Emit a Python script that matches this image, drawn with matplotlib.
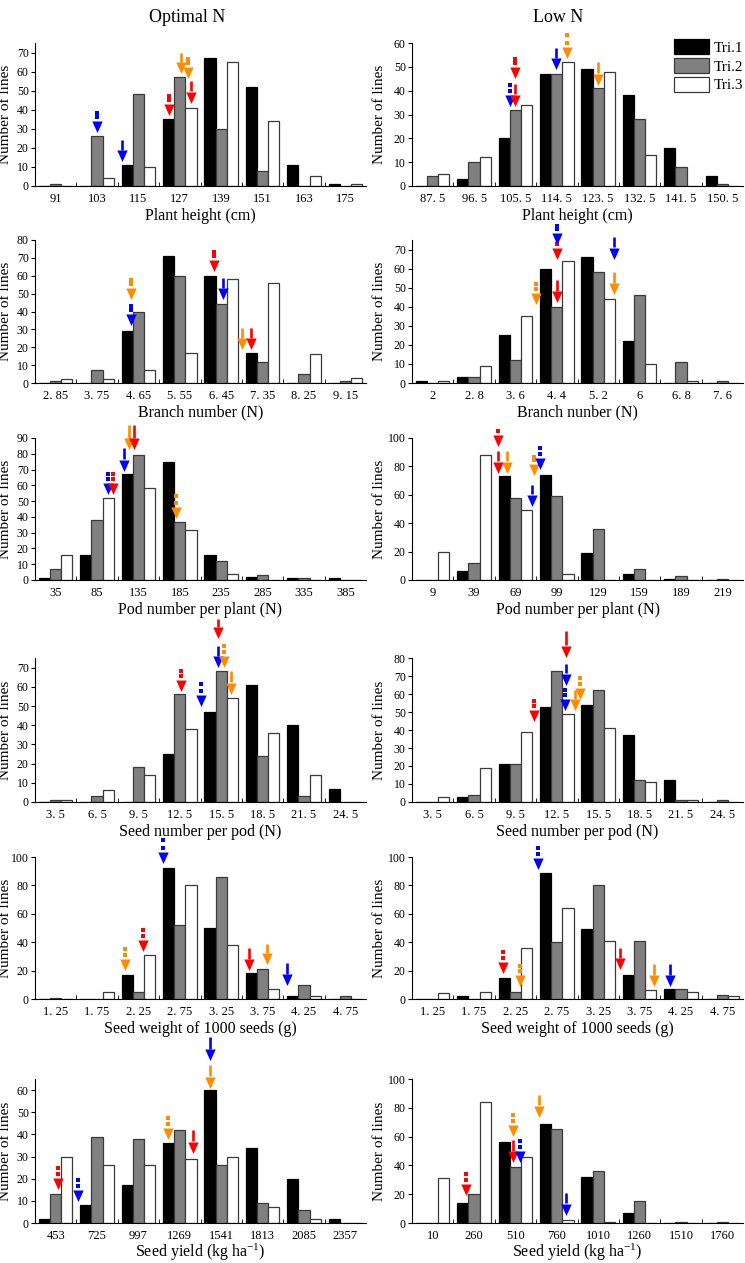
import numpy as np
import matplotlib
matplotlib.use('Agg')
import matplotlib.pyplot as plt
from matplotlib.path import Path

plt.rcParams['font.family'] = 'Liberation Serif'
plt.rcParams['mathtext.fontset'] = 'custom'
plt.rcParams['mathtext.rm'] = 'Liberation Serif'
plt.rcParams['mathtext.it'] = 'Liberation Serif:italic'

# ---- data: three trials per panel (Tri.1, Tri.2, Tri.3) ----
ph_opt_cats = ['91', '103', '115', '127', '139', '151', '163', '175']
ph_opt = [[0, 0, 11, 35, 67, 52, 11, 1],
          [1, 26, 48, 57, 30, 8, 0, 0],
          [0, 4, 10, 41, 65, 34, 5, 1]]
ph_low_cats = ['87. 5', '96. 5', '105. 5', '114. 5', '123. 5', '132. 5', '141. 5', '150. 5']
ph_low = [[0, 3, 20, 47, 49, 38, 16, 4],
          [4, 10, 32, 47, 41, 28, 8, 1],
          [5, 12, 34, 52, 48, 13, 0, 0]]

bn_opt_cats = ['2. 85', '3. 75', '4. 65', '5. 55', '6. 45', '7. 35', '8. 25', '9. 15']
bn_opt = [[0, 0, 29, 71, 60, 17, 0, 0],
          [1, 7, 40, 60, 44, 12, 5, 1],
          [2, 2, 7, 17, 58, 56, 16, 3]]
bn_low_cats = ['2', '2. 8', '3. 6', '4. 4', '5. 2', '6', '6. 8', '7. 6']
bn_low = [[1, 3, 25, 60, 66, 22, 0, 0],
          [0, 3, 12, 40, 58, 46, 11, 1],
          [1, 9, 35, 64, 44, 10, 1, 0]]

pn_opt_cats = ['35', '85', '135', '185', '235', '285', '335', '385']
pn_opt = [[1, 16, 67, 75, 16, 2, 1, 1],
          [7, 38, 79, 37, 12, 3, 1, 0],
          [16, 52, 58, 32, 4, 0, 0, 0]]
pn_low_cats = ['9', '39', '69', '99', '129', '159', '189', '219']
pn_low = [[0, 6, 73, 74, 19, 4, 1, 0],
          [0, 12, 58, 59, 36, 8, 3, 1],
          [20, 88, 49, 4, 0, 0, 0, 0]]

sn_cats = ['3. 5', '6. 5', '9. 5', '12. 5', '15. 5', '18. 5', '21. 5', '24. 5']
sn_opt = [[0, 0, 0, 25, 47, 61, 40, 7],
          [1, 3, 18, 56, 68, 24, 3, 0],
          [1, 6, 14, 38, 54, 36, 14, 0]]
sn_low = [[0, 3, 21, 53, 54, 37, 12, 0],
          [0, 4, 21, 73, 62, 12, 1, 1],
          [3, 19, 39, 49, 41, 11, 1, 0]]

sw_cats = ['1. 25', '1. 75', '2. 25', '2. 75', '3. 25', '3. 75', '4. 25', '4. 75']
sw_opt = [[0, 0, 17, 92, 50, 18, 2, 0],
          [1, 0, 5, 52, 86, 21, 10, 2],
          [0, 5, 31, 80, 38, 7, 2, 0]]
sw_low = [[0, 2, 15, 89, 49, 17, 7, 0],
          [0, 0, 5, 40, 80, 41, 7, 3],
          [4, 5, 36, 64, 41, 6, 5, 2]]

sy_opt_cats = ['453', '725', '997', '1269', '1541', '1813', '2085', '2357']
sy_opt = [[2, 8, 17, 36, 60, 34, 20, 2],
          [13, 39, 38, 42, 26, 9, 6, 0],
          [30, 26, 26, 29, 30, 7, 2, 0]]
sy_low_cats = ['10', '260', '510', '760', '1010', '1260', '1510', '1760']
sy_low = [[0, 14, 56, 69, 32, 7, 0, 0],
          [0, 20, 39, 65, 36, 15, 1, 1],
          [31, 84, 46, 2, 1, 0, 0, 0]]

# arrows: (category position, tip value, tail value, colour key, line style)
ph_opt_arrows = [(1.0, 28, 39, 'b', ':'), (1.61, 12.8, 24, 'b', '-'), (2.75, 37, 48, 'r', ':'),
                 (3.02, 59, 70, 'o', '-'), (3.2, 56.5, 67.5, 'o', ':'), (3.27, 43.5, 55, 'r', '-')]
ph_low_arrows = [(1.86, 33.4, 43, 'b', ':'), (2.0, 33.4, 43, 'r', '-'), (2.0, 44.9, 54, 'r', ':'),
                 (2.97, 48.8, 58, 'b', '-'), (3.25, 53.4, 64, 'o', ':'), (4.0, 42.2, 52, 'o', '-')]
bn_opt_arrows = [(1.82, 46.9, 58.6, 'o', ':'), (1.82, 32, 43.7, 'b', ':'), (3.82, 62.3, 74.4, 'r', ':'),
                 (4.05, 46.5, 58.6, 'b', '-'), (4.5, 18.6, 30.7, 'o', '-'), (4.73, 18.6, 30.7, 'r', '-')]
bn_low_arrows = [(3.0, 72.8, 83, 'b', ':'), (3.0, 64.7, 77.8, 'r', ':'), (3.0, 42, 54, 'r', '-'),
                 (2.49, 41, 52.6, 'o', ':'), (4.39, 64.8, 76.5, 'b', '-'), (4.39, 46.4, 58.3, 'o', '-')]
pn_opt_arrows = [(1.26, 54, 68, 'b', ':'), (1.38, 54, 68, 'r', ':'), (1.64, 68.8, 83.6, 'b', '-'),
                 (1.78, 82.5, 98, 'o', '-'), (1.9, 82.5, 98, 'r', '-'), (2.9, 38.7, 54, 'o', ':')]
pn_low_arrows = [(1.58, 94, 106, 'r', ':'), (1.58, 75.3, 90.5, 'r', '-'), (1.79, 75.3, 90.5, 'o', '-'),
                 (2.46, 73.5, 88, 'o', ':'), (2.59, 78, 94, 'b', ':'), (2.39, 52, 67, 'b', '-')]
sn_opt_arrows = [(3.02, 57.8, 69, 'r', ':'), (3.51, 49.9, 62, 'b', ':'), (3.93, 85, 95.5, 'r', '-'),
                 (3.93, 70, 81.4, 'b', '-'), (4.07, 70, 82, 'o', ':'), (4.23, 56, 68, 'o', '-')]
sn_low_arrows = [(2.44, 44.7, 56.7, 'r', ':'), (3.23, 80.4, 95, 'r', '-'), (3.23, 65, 76.7, 'b', '-'),
                 (3.2, 50.8, 63, 'b', ':'), (3.44, 50.8, 62.3, 'o', '-'), (3.56, 56.7, 69.8, 'o', ':')]
sw_opt_arrows = [(1.68, 20, 36.4, 'o', ':'), (2.12, 33.4, 50, 'r', ':'), (2.6, 95.3, 113, 'b', ':'),
                 (4.68, 20, 35.7, 'r', '-'), (5.1, 24, 39, 'o', '-'), (5.59, 9.3, 25.7, 'b', '-')]
sw_low_arrows = [(1.7, 18, 34.4, 'r', ':'), (2.12, 8.8, 24.6, 'o', ':'), (2.55, 91.4, 107.7, 'b', ':'),
                 (4.52, 20.5, 35.6, 'r', '-'), (5.36, 8.8, 24.6, 'o', '-'), (5.74, 8.8, 25, 'b', '-')]
sy_opt_arrows = [(0.05, 15, 25.3, 'r', ':'), (0.55, 9.5, 20, 'b', ':'), (2.72, 37.8, 48, 'o', ':'),
                 (3.31, 31.4, 42, 'r', '-'), (3.72, 73.3, 84, 'b', '-'), (3.72, 60.8, 71.3, 'o', '-')]
sy_low_arrows = [(0.8, 19.3, 35, 'r', ':'), (1.94, 60, 75.8, 'o', ':'), (1.94, 41.9, 57.7, 'r', '-'),
                 (2.11, 41.9, 58, 'b', ':'), (2.56, 73.5, 89, 'o', '-'), (3.21, 5.3, 21, 'b', '-')]

TRI_LABELS = ['Tri.1', 'Tri.2', 'Tri.3']
FACE = ['black', '#808080', 'white']
EDGE = ['black', '#3a3a3a', '#3a3a3a']
ARROW_C = {'r': '#ff0000', 'b': '#0000ff', 'o': '#ff8c00'}

# panel specs: (data, cats, arrows, xlabel, ymax, ystep)
panels = [
    (ph_opt, ph_opt_cats, ph_opt_arrows, 'Plant height (cm)', 75, 10),
    (ph_low, ph_low_cats, ph_low_arrows, 'Plant height (cm)', 60, 10),
    (bn_opt, bn_opt_cats, bn_opt_arrows, 'Branch number (N)', 80, 10),
    (bn_low, bn_low_cats, bn_low_arrows, 'Branch nunber (N)', 75, 10),
    (pn_opt, pn_opt_cats, pn_opt_arrows, 'Pod number per plant (N)', 90, 10),
    (pn_low, pn_low_cats, pn_low_arrows, 'Pod number per plant (N)', 100, 20),
    (sn_opt, sn_cats, sn_opt_arrows, 'Seed number per pod (N)', 75, 10),
    (sn_low, sn_cats, sn_low_arrows, 'Seed number per pod (N)', 80, 10),
    (sw_opt, sw_cats, sw_opt_arrows, 'Seed weight of 1000 seeds (g)', 100, 20),
    (sw_low, sw_cats, sw_low_arrows, 'Seed weight of 1000 seeds (g)', 100, 20),
    (sy_opt, sy_opt_cats, sy_opt_arrows, 'Seed yield (kg ha$^{-1}$)', 65, 10),
    (sy_low, sy_low_cats, sy_low_arrows, 'Seed yield (kg ha$^{-1}$)', 100, 20),
]

W, H = 745, 1263
fig = plt.figure(figsize=(W / 100, H / 100), dpi=100)

row_top = [43, 240, 438, 658, 857, 1079]
row_bot = [186, 383, 580, 802, 999, 1223]
col_left = [35, 412]
col_w = 331
ylab_x = [-0.068, -0.078]

# arrow head: triangle whose origin is the middle of its base, tip pointing down
HEAD = Path([(-0.45, 0), (0.45, 0), (0, -1), (-0.45, 0)],
            [Path.MOVETO, Path.LINETO, Path.LINETO, Path.CLOSEPOLY])
HEAD_PX = 11.5
HEAD_MS = 2 * HEAD_PX * 0.72   # marker size in points so the tip lands HEAD_PX below

bw = 0.27
for i, (data, cats, arrows, xlabel, ymax, ystep) in enumerate(panels):
    r, c = divmod(i, 2)
    hpx = row_bot[r] - row_top[r]
    ax = fig.add_axes([col_left[c] / W, 1 - row_bot[r] / H, col_w / W, hpx / H])
    x = np.arange(len(cats))
    for k in range(3):
        ax.bar(x + (k - 1) * bw, data[k], bw, color=FACE[k], edgecolor=EDGE[k],
               linewidth=0.9, label=TRI_LABELS[k], zorder=2)

    px = ymax / hpx   # data units per pixel
    for (xa, tip, tail, ck, ls) in arrows:
        col = ARROW_C[ck]
        base = tip + HEAD_PX * px
        if ls == ':':
            ax.plot([xa, xa], [tail - 1.5 * px, base + 4.0 * px], linestyle='none',
                    marker='s', markersize=2.4, markeredgewidth=0, color=col,
                    clip_on=False, zorder=5)
        else:
            ax.plot([xa, xa], [tail, base + 0.5 * px], color=col, lw=1.9,
                    solid_capstyle='butt', clip_on=False, zorder=5)
        ax.plot([xa], [base], linestyle='none', marker=HEAD, markersize=HEAD_MS,
                markeredgewidth=0, color=col, clip_on=False, zorder=6)

    ax.set_xlim(-0.5, 7.5)
    ax.set_ylim(0, ymax)
    ax.set_xticks(x)
    ax.set_xticklabels(cats, fontsize=9)
    ax.set_xticks(x[:-1] + 0.5, minor=True)
    ax.tick_params(axis='x', which='major', length=0, pad=5)
    ax.tick_params(axis='x', which='minor', direction='in', length=3)
    ax.set_yticks(np.arange(0, ymax + 0.1, ystep))
    ax.tick_params(axis='y', labelsize=8.5, length=3, pad=1.5)
    ax.spines['top'].set_visible(False)
    ax.spines['right'].set_visible(False)
    ax.set_xlabel(xlabel, fontsize=11.5, labelpad=0 if r == 5 else 2)
    ax.set_ylabel('Number of lines', fontsize=11)
    ax.yaxis.set_label_coords(ylab_x[c], 0.5)
    if i == 1:
        ax.legend(loc='upper right', bbox_to_anchor=(1.02, 1.07), frameon=False,
                  fontsize=11, handlelength=2.3, handleheight=1.15,
                  labelspacing=0.2, handletextpad=0.3, borderaxespad=0)

fig.text(187 / W, 1 - 17 / H, 'Optimal N', ha='center', va='center', fontsize=13)
fig.text(558 / W, 1 - 17 / H, 'Low N', ha='center', va='center', fontsize=13)

fig.savefig('out.png', dpi=100)
